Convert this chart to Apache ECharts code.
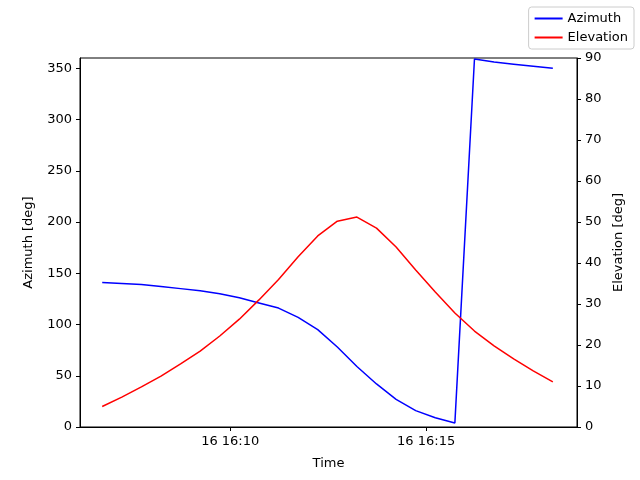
<!DOCTYPE html>
<html><head><meta charset="utf-8">
<script src="https://cdn.jsdelivr.net/npm/echarts@6/dist/echarts.min.js"></script>
<style>html,body{margin:0;padding:0;background:#fff}#c{width:640px;height:480px}</style>
</head><body><div id="c"></div>
<script>
// time in seconds since 16:00:00, samples every 30 s starting 16:06:44
const startSec = 404;
const stepSec = 30;
const azimuth = [141,140,139,137,135,133,130,126,121,116,107,95,78,59,42,27,16,9,4,359,356,354,352,350];
const elevation = [5,7.3,9.8,12.4,15.4,18.5,22.2,26.3,31,36,41.5,46.6,50.2,51.2,48.5,43.9,38.3,32.9,27.8,23.4,19.8,16.6,13.7,11];
const timeTicks = [600, 900];
const timeTickLabels = ['16 16:10', '16 16:15'];
const times = azimuth.map((_, i) => startSec + i * stepSec);

const chart = echarts.init(document.getElementById('c'));
const font = 'DejaVu Sans';
chart.setOption({
  animation: false,
  textStyle: {fontFamily: font},
  grid: {left: 80, right: 63, top: 58, bottom: 53, show: true, borderColor: '#000', borderWidth: 1},
  legend: {
    right: 6, top: 7, orient: 'vertical', itemWidth: 28, itemHeight: 2, itemGap: 6,
    borderColor: '#ccc', borderWidth: 1, borderRadius: 3, padding: [5, 6],
    textStyle: {fontSize: 13, color: '#000', fontFamily: font},
    data: [{name: 'Azimuth', icon: 'rect'}, {name: 'Elevation', icon: 'rect'}]
  },
  xAxis: {
    type: 'value', min: 370, max: 1131,
    name: 'Time', nameLocation: 'middle', nameGap: 30,
    nameTextStyle: {fontSize: 13, color: '#000'},
    splitLine: {show: false},
    axisLine: {onZero: false, lineStyle: {color: '#000'}},
    axisTick: {customValues: timeTicks, length: 4, lineStyle: {color: '#000'}},
    axisLabel: {customValues: timeTicks, color: '#000', fontSize: 13,
      formatter: v => timeTickLabels[timeTicks.indexOf(v)] || ''}
  },
  yAxis: [{
    type: 'value', min: 0, max: 360, interval: 50,
    name: 'Azimuth [deg]', nameLocation: 'middle', nameGap: 45, nameRotate: 90,
    nameTextStyle: {fontSize: 13, color: '#000'},
    splitLine: {show: false},
    axisLine: {show: true, lineStyle: {color: '#000'}},
    axisTick: {show: true, length: 4, lineStyle: {color: '#000'}},
    axisLabel: {color: '#000', fontSize: 13}
  }, {
    type: 'value', min: 0, max: 90, interval: 10, position: 'right',
    name: 'Elevation [deg]', nameLocation: 'middle', nameGap: 35, nameRotate: 90,
    nameTextStyle: {fontSize: 13, color: '#000'},
    splitLine: {show: false},
    axisLine: {show: true, lineStyle: {color: '#000'}},
    axisTick: {show: true, length: 4, lineStyle: {color: '#000'}},
    axisLabel: {color: '#000', fontSize: 13}
  }],
  series: [{
    name: 'Azimuth', type: 'line', yAxisIndex: 0, showSymbol: false,
    itemStyle: {color: '#0000ff'}, lineStyle: {color: '#0000ff', width: 1.5},
    data: times.map((t, i) => [t, azimuth[i]])
  }, {
    name: 'Elevation', type: 'line', yAxisIndex: 1, showSymbol: false,
    itemStyle: {color: '#ff0000'}, lineStyle: {color: '#ff0000', width: 1.5},
    data: times.map((t, i) => [t, elevation[i]])
  }]
});
</script></body></html>
